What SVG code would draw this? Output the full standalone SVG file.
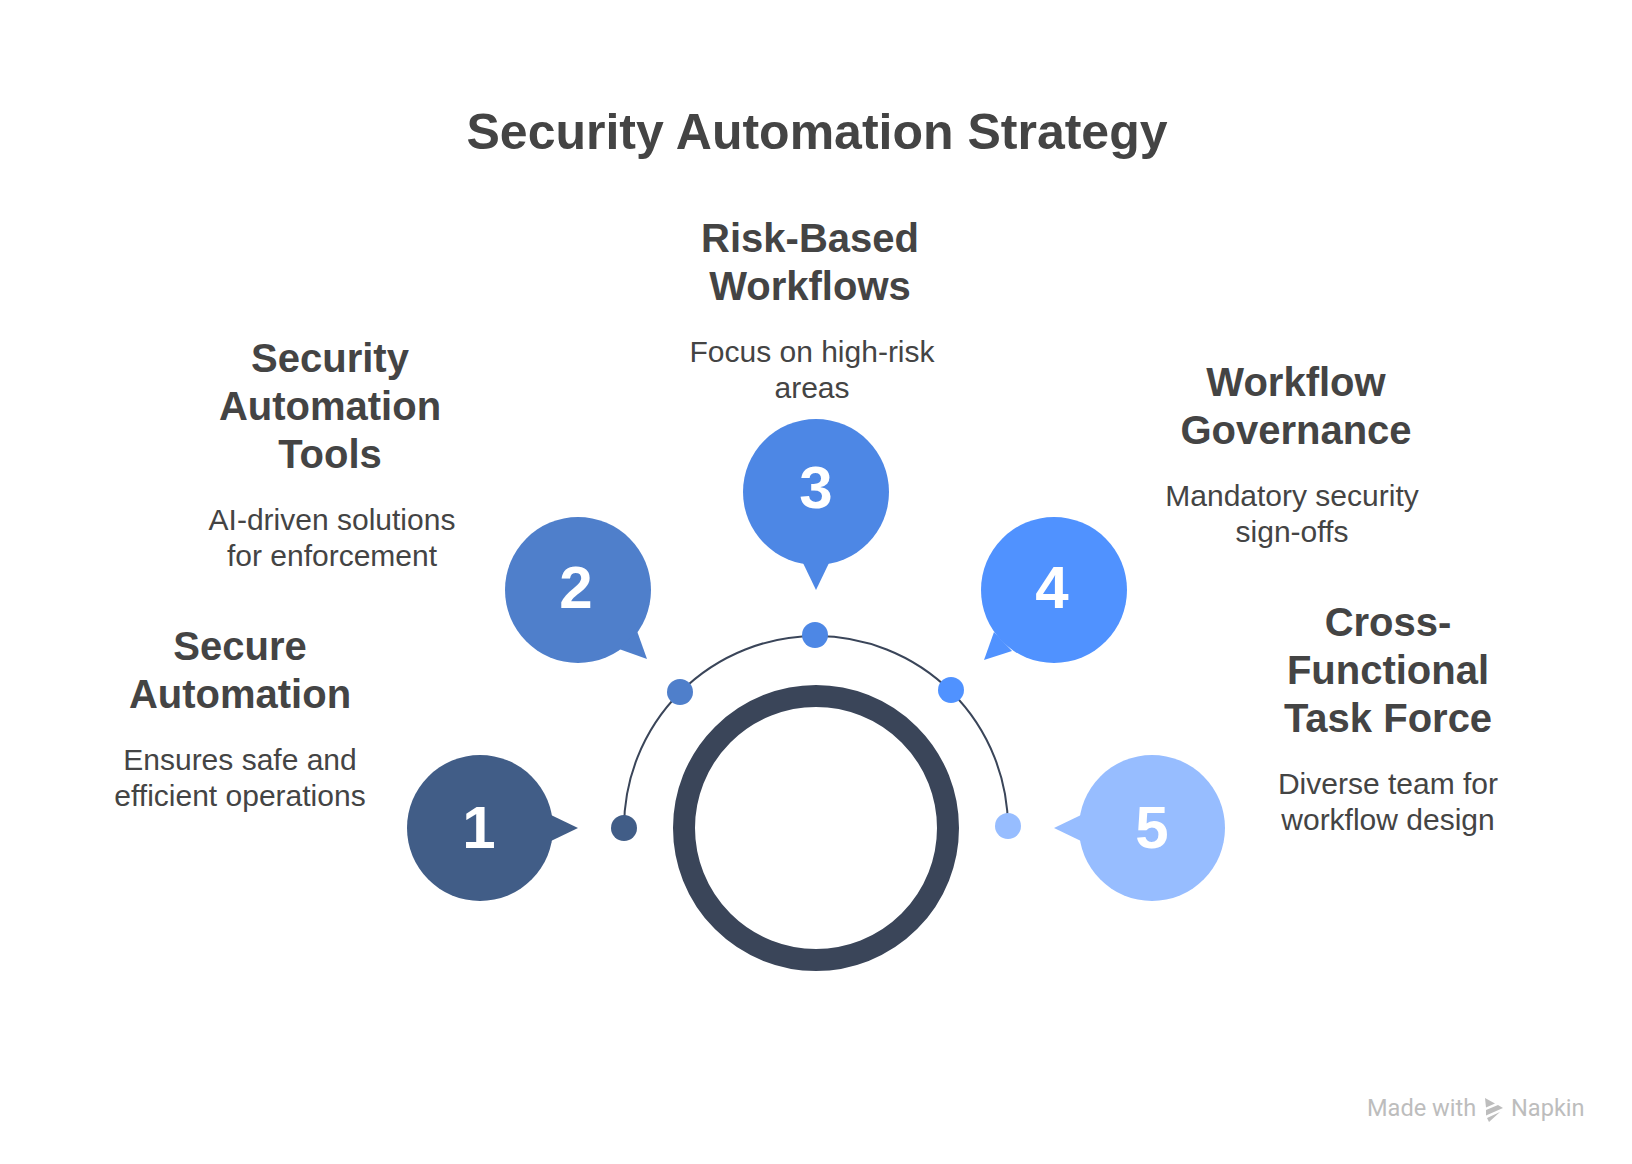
<svg xmlns="http://www.w3.org/2000/svg" width="1632" height="1164" viewBox="0 0 1632 1164">
<style>
text{font-family:"Liberation Sans",Arial,sans-serif;text-anchor:middle;fill:#444}
.t{font-size:50px;font-weight:700}
.h{font-size:40px;font-weight:700}
.b{font-size:30px}
.n{font-size:60px;font-weight:700;fill:#fff}
.w{font-family:Roboto,"Open Sans",sans-serif;font-size:23.6px;fill:#bdbdbd;text-anchor:start}
</style>
<rect width="1632" height="1164" fill="#fff"/>
<text id="title" class="t" x="817" y="149">Security Automation Strategy</text>
<g id="connectors"><path d="M624 828A192 192 0 0 1 1008 828" fill="none" stroke="#3a4559" stroke-width="2"/></g>
<circle id="ring" cx="816" cy="828" r="132" fill="none" stroke="#3a4559" stroke-width="22"/>
<g id="node1"><circle cx="480" cy="828" r="73" fill="#415d87"/><path d="M551 815L578 828L551 841Z" fill="#415d87"/><circle cx="624" cy="828" r="13" fill="#415d87"/><text class="n" x="479" y="848">1</text>
<text class="h"><tspan x="240" y="660">Secure</tspan><tspan x="240" y="708">Automation</tspan></text><text class="b"><tspan x="240" y="770">Ensures safe and</tspan><tspan x="240" y="806">efficient operations</tspan></text></g>
<g id="node2"><circle cx="578" cy="590" r="73" fill="#4f7fcb"/><path d="M637 631L647 659L619 649Z" fill="#4f7fcb"/><circle cx="680" cy="692" r="13" fill="#4f7fcb"/><text class="n" x="576" y="608">2</text>
<text class="h"><tspan x="330" y="372">Security</tspan><tspan x="330" y="420">Automation</tspan><tspan x="330" y="468">Tools</tspan></text><text class="b"><tspan x="332" y="530">AI-driven solutions</tspan><tspan x="332" y="566">for enforcement</tspan></text></g>
<g id="node3"><circle cx="816" cy="492" r="73" fill="#4d87e5"/><path d="M803 563L829 563L816 590Z" fill="#4d87e5"/><circle cx="815" cy="635" r="13" fill="#4d87e5"/><text class="n" x="816" y="508">3</text>
<text class="h"><tspan x="810" y="252">Risk-Based</tspan><tspan x="810" y="300">Workflows</tspan></text><text class="b"><tspan x="812" y="362">Focus on high-risk</tspan><tspan x="812" y="398">areas</tspan></text></g>
<g id="node4"><circle cx="1054" cy="590" r="73" fill="#5092ff"/><path d="M994 632L1012 651L984 660Z" fill="#5092ff"/><circle cx="951" cy="690" r="13" fill="#5092ff"/><text class="n" x="1052" y="608">4</text>
<text class="h"><tspan x="1296" y="396">Workflow</tspan><tspan x="1296" y="444">Governance</tspan></text><text class="b"><tspan x="1292" y="506">Mandatory security</tspan><tspan x="1292" y="542">sign-offs</tspan></text></g>
<g id="node5"><circle cx="1152" cy="828" r="73" fill="#97bdff"/><path d="M1081 815L1054 828L1081 841Z" fill="#97bdff"/><circle cx="1008" cy="826" r="13" fill="#97bdff"/><text class="n" x="1152" y="848">5</text>
<text class="h"><tspan x="1388" y="636">Cross-</tspan><tspan x="1388" y="684">Functional</tspan><tspan x="1388" y="732">Task Force</tspan></text><text class="b"><tspan x="1388" y="794">Diverse team for</tspan><tspan x="1388" y="830">workflow design</tspan></text></g>
<g id="watermark"><text class="w" x="1367" y="1116">Made with</text><path d="M1485 1098L1495 1103.5L1486 1107.5Z M1486 1110L1498 1105L1503 1108L1486 1115.5Z M1487 1118L1500 1112L1489 1122Z" fill="#bdbdbd"/><text class="w" x="1511" y="1116">Napkin</text></g>
</svg>
